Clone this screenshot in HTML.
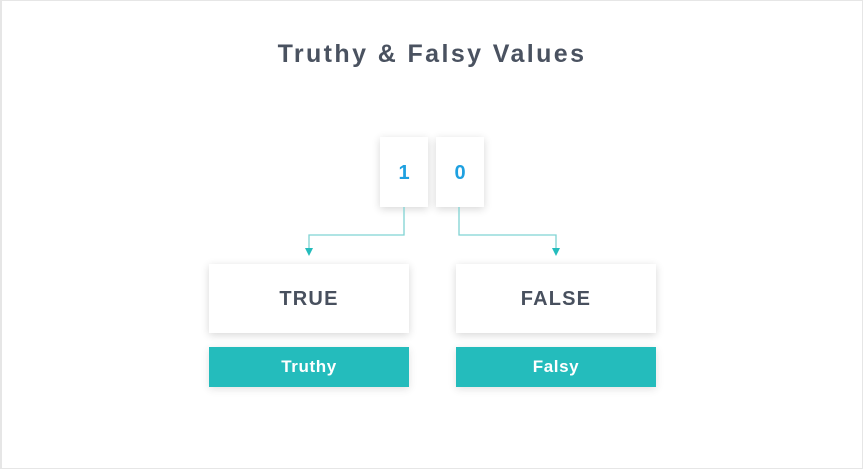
<!DOCTYPE html>
<html><head><style>
body{margin:0;width:864px;height:469px;background:#fff;position:relative;overflow:hidden;font-family:"Liberation Sans",sans-serif}
.frame{position:absolute;left:0;top:0;width:860px;height:467px;border:1px solid #e6e6e6;border-width:1px 1px 1px 2px}
.t{position:absolute;left:0;width:864px;top:40px;text-align:center;font-size:25px;font-weight:bold;color:#4a5260;letter-spacing:2.4px}
.b{position:absolute;background:#fff;box-shadow:0 2px 8px rgba(0,0,0,.16);display:flex;align-items:center;justify-content:center;font-weight:bold;padding-top:2px;box-sizing:border-box}
.n{color:#1ea0e0;font-size:20px}
.l{color:#48505e;font-size:20px;letter-spacing:1.2px}
.g{position:absolute;background:#24bcbc;color:#fff;font-size:17px;font-weight:bold;letter-spacing:0.6px;display:flex;align-items:center;justify-content:center;box-shadow:0 2px 8px rgba(0,0,0,.12)}
</style></head><body>
<div class="frame"></div>
<div class="t">Truthy &amp; Falsy Values</div>
<div class="b n" style="left:380px;top:137px;width:48px;height:70px">1</div>
<div class="b n" style="left:436px;top:137px;width:48px;height:70px">0</div>
<svg style="position:absolute;left:0;top:0" width="864" height="469">
<polyline points="404,207 404,235 309,235 309,250" fill="none" stroke="#7fd3d3" stroke-width="1.3"/>
<polyline points="459,207 459,235 556,235 556,250" fill="none" stroke="#7fd3d3" stroke-width="1.3"/>
<polygon points="305,248 313,248 309,256" fill="#24bcbc"/>
<polygon points="552,248 560,248 556,256" fill="#24bcbc"/>
</svg>
<div class="b l" style="left:209px;top:264px;width:200px;height:69px">TRUE</div>
<div class="b l" style="left:456px;top:264px;width:200px;height:69px">FALSE</div>
<div class="g" style="left:209px;top:347px;width:200px;height:40px">Truthy</div>
<div class="g" style="left:456px;top:347px;width:200px;height:40px">Falsy</div>
</body></html>
